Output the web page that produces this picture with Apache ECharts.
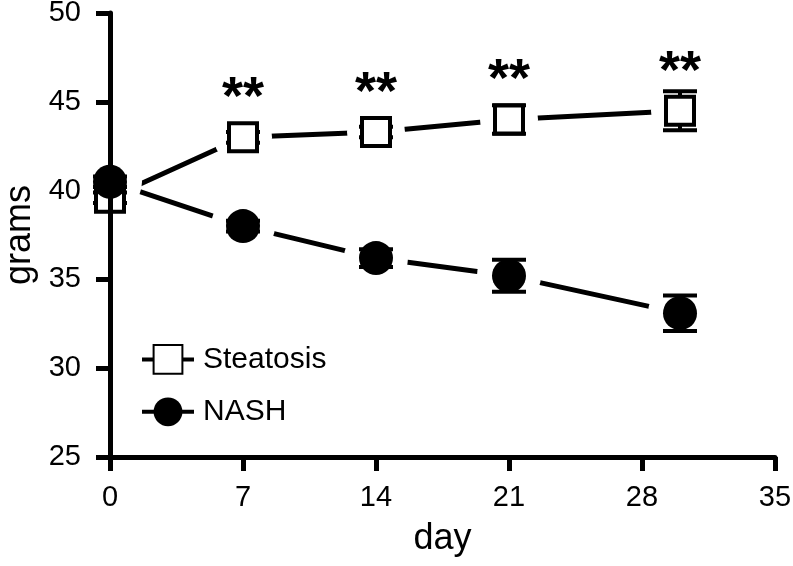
<!DOCTYPE html>
<html>
<head>
<meta charset="utf-8">
<script src="https://cdn.jsdelivr.net/npm/echarts@6/dist/echarts.min.js"></script>
<style>html,body{margin:0;padding:0;background:#fff}#c{width:793px;height:566px}</style>
</head>
<body>
<div id="c"></div>
<script>
var days = [0, 7, 14, 21, 30];
var steatosis = [39.6, 43.0, 43.3, 44.0, 44.5];
var steatosisErr = [0.3, 0.3, 0.3, 0.8, 1.1];
var nash = [40.5, 38.0, 36.2, 35.2, 33.1];
var nashErr = [0.3, 0.3, 0.5, 0.9, 1.0];
var significance = ['', '**', '**', '**', '**'];
var xTicks = [0, 7, 14, 21, 28, 35];
var yTicks = [25, 30, 35, 40, 45, 50];

var FONT = 'Liberation Sans';
function pairs(vals) { return days.map(function (d, i) { return [d, vals[i]]; }); }
function errData(vals, errs) { return days.map(function (d, i) { return [d, vals[i] - errs[i], vals[i] + errs[i]]; }); }

function errRender(params, api) {
  var x = api.value(0);
  var lo = api.coord([x, api.value(1)]);
  var hi = api.coord([x, api.value(2)]);
  var hw = 17;
  var st = { stroke: '#000', lineWidth: 4 };
  return {
    type: 'group',
    children: [
      { type: 'line', shape: { x1: lo[0], y1: lo[1], x2: hi[0], y2: hi[1] }, style: st },
      { type: 'line', shape: { x1: lo[0] - hw, y1: lo[1], x2: lo[0] + hw, y2: lo[1] }, style: st },
      { type: 'line', shape: { x1: hi[0] - hw, y1: hi[1], x2: hi[0] + hw, y2: hi[1] }, style: st }
    ]
  };
}
function haloRender(r) {
  return function (params, api) {
    var p = api.coord([api.value(0), api.value(1)]);
    return { type: 'circle', shape: { cx: p[0], cy: p[1], r: r }, style: { fill: '#ffffff' } };
  };
}

var chart = echarts.init(document.getElementById('c'), null, { renderer: 'canvas' });
chart.setOption({
  animation: false,
  backgroundColor: '#fff',
  textStyle: { fontFamily: FONT, color: '#000' },
  grid: { left: 110, right: 18, top: 13, bottom: 109, containLabel: false, outerBoundsMode: 'none' },
  legend: {
    data: ['Steatosis', 'NASH'],
    orient: 'vertical',
    left: 135,
    top: 339,
    itemWidth: 52,
    itemHeight: 36,
    itemGap: 22,
    selectedMode: false,
    textStyle: { fontFamily: FONT, fontSize: 30, color: '#000', padding: [0, 0, 0, 4] },
    lineStyle: { color: '#000', width: 4, opacity: 1 }
  },
  xAxis: {
    type: 'value', min: 0, max: 35, interval: 7, z: 10,
    name: 'day', nameLocation: 'middle', nameGap: 64,
    nameTextStyle: { fontFamily: FONT, fontSize: 36, color: '#000' },
    axisLine: { lineStyle: { color: '#000', width: 5 } },
    axisTick: { show: true, length: 14, lineStyle: { color: '#000', width: 5 } },
    axisLabel: { fontFamily: FONT, fontSize: 29, color: '#000', margin: 26,
      formatter: function (v) { return xTicks.indexOf(v) >= 0 ? String(v) : ''; } },
    splitLine: { show: false }
  },
  yAxis: {
    type: 'value', min: 25, max: 50, interval: 5, z: 10,
    name: 'grams', nameLocation: 'middle', nameGap: 72, nameRotate: 90,
    nameTextStyle: { fontFamily: FONT, fontSize: 36, color: '#000' },
    axisLine: { lineStyle: { color: '#000', width: 5 } },
    axisTick: { show: true, length: 14, lineStyle: { color: '#000', width: 5 } },
    axisLabel: { fontFamily: FONT, fontSize: 29, color: '#000', margin: 29,
      formatter: function (v) { return yTicks.indexOf(v) >= 0 ? String(v) : ''; } },
    splitLine: { show: false }
  },
  series: [
    { name: 'Steatosis', type: 'line', data: pairs(steatosis), z: 1,
      symbol: 'rect', showSymbol: false, silent: true,
      itemStyle: { color: '#fff', borderColor: '#000', borderWidth: 4 },
      lineStyle: { color: '#000', width: 5 } },
    { name: 'NASH', type: 'line', data: pairs(nash), z: 1,
      symbol: 'circle', showSymbol: false, silent: true,
      itemStyle: { color: '#000' },
      lineStyle: { color: '#000', width: 5 } },
    { name: 'sHalo', type: 'custom', data: pairs(steatosis), z: 2, silent: true, renderItem: haloRender(29) },
    { name: 'nHalo', type: 'custom', data: pairs(nash), z: 2, silent: true, renderItem: haloRender(32) },
    { name: 'sErr', type: 'custom', data: errData(steatosis, steatosisErr), z: 3, renderItem: errRender, silent: true },
    { name: 'nErr', type: 'custom', data: errData(nash, nashErr), z: 3, renderItem: errRender, silent: true },
    { name: 'sMark', type: 'scatter', data: pairs(steatosis), z: 4,
      symbol: 'rect', symbolSize: 28,
      itemStyle: { color: '#fff', borderColor: '#000', borderWidth: 4, opacity: 1 },
      label: { show: true, position: 'top', distance: 0, offset: [0, 5],
        fontFamily: FONT, fontSize: 54, fontWeight: 'bold', color: '#000',
        formatter: function (p) { return significance[p.dataIndex]; } }
    },
    { name: 'nMark', type: 'scatter', data: pairs(nash), z: 5,
      symbol: 'circle', symbolSize: 34,
      itemStyle: { color: '#000', opacity: 1 }
    }
  ]
});
</script>
</body>
</html>
